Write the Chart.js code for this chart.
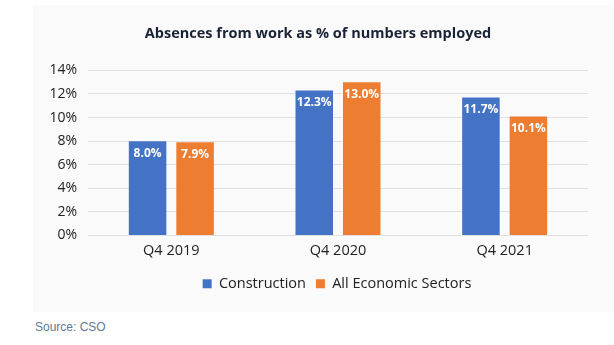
<!DOCTYPE html>
<html>
<head>
<meta charset="utf-8">
<script src="https://cdn.jsdelivr.net/npm/chart.js@4.4.0/dist/chart.umd.min.js"></script>
<style>
  html, body { margin: 0; padding: 0; background: #ffffff; }
  #wrap { position: relative; width: 614px; height: 345px; }
  #card { position: absolute; left: 33px; top: 5px; width: 581px; height: 307px; background: #fafafa; }
  #c { position: absolute; left: 0; top: 0; }
  #src { position: absolute; left: 35px; top: 320px; font: 12px "Liberation Sans", Arial, sans-serif; color: #5d7b98; }
</style>
</head>
<body>
<div id="wrap">
  <div id="card"></div>
  <canvas id="c" width="614" height="312"></canvas>
  <div id="src">Source: CSO</div>
</div>
<script>
const categories = ['Q4 2019', 'Q4 2020', 'Q4 2021'];
const construction = [8.0, 12.3, 11.7];
const allSectors = [7.9, 13.0, 10.1];
const yTicks = [0, 2, 4, 6, 8, 10, 12, 14];

const FONT = '"Open Sans", sans-serif';

// white value labels just inside the top of each bar
const barLabels = {
  id: 'barLabels',
  afterDatasetsDraw(chart) {
    const ctx = chart.ctx;
    ctx.save();
    ctx.fillStyle = '#ffffff';
    ctx.font = 'bold 12px ' + FONT;
    ctx.textAlign = 'center';
    ctx.textBaseline = 'middle';
    chart.data.datasets.forEach((ds, i) => {
      chart.getDatasetMeta(i).data.forEach((el, j) => {
        ctx.fillText(ds.data[j].toFixed(1) + '%', el.x, el.y + 12);
      });
    });
    ctx.restore();
  }
};

// legend sits a bit right of centre in the original
const legendShift = {
  id: 'legendShift',
  afterLayout(chart) {
    chart.legend.left += 19;
    chart.legend.right += 19;
  }
};

new Chart(document.getElementById('c'), {
  type: 'bar',
  data: {
    labels: categories,
    datasets: [
      { label: 'Construction', data: construction, backgroundColor: '#4472c4',
        barPercentage: 0.79, categoryPercentage: 0.57 },
      { label: 'All Economic Sectors', data: allSectors, backgroundColor: '#ed7d31',
        barPercentage: 0.79, categoryPercentage: 0.57 }
    ]
  },
  options: {
    responsive: false,
    animation: false,
    layout: { padding: { left: 48, right: 26, top: 25, bottom: 11 } },
    plugins: {
      title: {
        display: true,
        text: 'Absences from work as % of numbers employed',
        color: '#1a2236',
        font: { family: FONT, size: 14.5, weight: 'bold' },
        padding: { top: 0, bottom: 28 }
      },
      legend: {
        position: 'bottom',
        labels: {
          boxWidth: 9, boxHeight: 9, padding: 10,
          color: '#222222',
          font: { family: FONT, size: 14.5 }
        }
      },
      tooltip: { enabled: false }
    },
    scales: {
      x: {
        afterFit: (s) => { s.height = 31; },
        grid: { display: false, drawTicks: false },
        border: { display: false },
        ticks: { color: '#222222', font: { family: FONT, size: 14.5 }, padding: 7 }
      },
      y: {
        min: 0, max: 14,
        afterBuildTicks: (s) => { s.ticks = yTicks.map(v => ({ value: v })); },
        afterFit: (s) => { s.width = 40; },
        grid: { color: '#e0e0e0', drawTicks: false },
        border: { display: false },
        ticks: {
          color: '#222222', padding: 11,
          font: { family: FONT, size: 14 },
          callback: (v) => v + '%'
        }
      }
    }
  },
  plugins: [barLabels, legendShift]
});
</script>
</body>
</html>
